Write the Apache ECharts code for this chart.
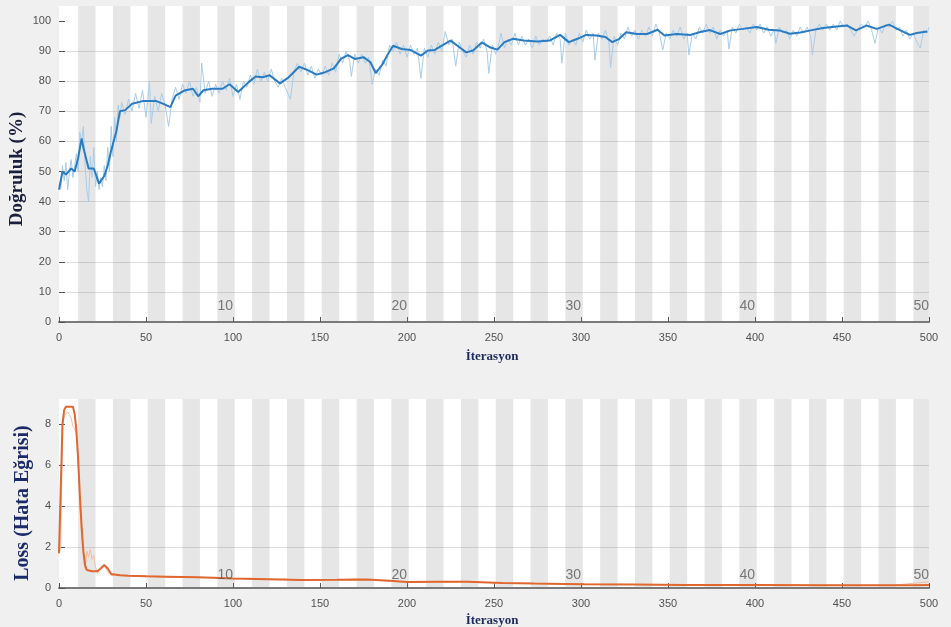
<!DOCTYPE html>
<html>
<head>
<meta charset="utf-8">
<script src="https://cdn.jsdelivr.net/npm/echarts@6/dist/echarts.min.js"></script>
<style>
html,body{margin:0;padding:0;background:#f0f0f0;}
#c{width:951px;height:627px;}
</style>
</head>
<body>
<div id="c"></div>
<script>
// ---------- data ----------
const xTicks = [0,50,100,150,200,250,300,350,400,450,500];
const accTicks = [0,10,20,30,40,50,60,70,80,90,100];
const lossTicks = [0,2,4,6,8];
const epochCount = 50;
const itersPerEpoch = 10;
const epochLabelIters = [100,200,300,400,500];
const epochLabels = ['10','20','30','40','50'];

// smoothed accuracy [iteration, %]
const accSmooth = [
[0,44],[2,50],[4,49],[7,51],[9,50],[11,54.5],[13,61],[14,58],[17,51],[20,51],[23,46],[26,48.5],[28,52],[30,57],
[33,63.5],[35,70],[38,70.4],[42,72.5],[48,73.4],[56,73.4],[60,72.5],[64,71.4],[67,75.2],[72,76.9],[77,77.5],
[80,75],[83,77],[88,77.5],[94,77.5],[98,79],[103,76.4],[109,79.7],[113,81.6],[117,81.3],[121,82],[127,79.3],
[132,81.3],[138,84.8],[143,83.7],[148,82.2],[153,83],[158,84.3],[162,87.4],[166,88.7],[170,87.4],[175,88],
[179,86.3],[182,82.7],[186,85.7],[189,89],[192,91.8],[197,90.7],[202,90.4],[208,88.5],[212,90.2],[216,90.4],
[220,91.8],[225,93.5],[229,91.8],[234,89.6],[238,90.2],[243,92.9],[248,91.2],[252,90.5],[256,93],[261,94.1],
[267,93.5],[275,93.2],[282,93.5],[288,95.4],[293,93],[298,94.1],[303,95.4],[309,95.2],[314,94.7],[318,93],
[322,94.1],[326,96.3],[332,95.7],[338,95.7],[344,97.1],[348,95.2],[355,95.7],[363,95.4],[368,96.3],[374,97],
[380,95.7],[386,96.9],[393,97.4],[401,98],[408,97.1],[414,96.9],[420,95.8],[426,96.2],[432,96.9],[439,97.7],
[447,98.2],[453,98.5],[458,96.9],[464,98.5],[470,97.4],[477,98.8],[483,97.1],[489,95.4],[493,96],[499,96.5]
];

// raw accuracy [iteration, %]
const accRaw = [
[1,44],[2,52],[3,47],[4,53],[5,44],[6,50],[7,54],[8,48],[9,52],[10,56],[11,50],[12,63],[13,60],[14,65],[15,52],
[16,44],[17,40],[18,55],[19,48],[20,58],[21,45],[22,50],[23,44],[24,48],[25,45],[26,52],[27,47],[28,58],[29,50],
[30,65],[31,55],[32,68],[33,60],[34,72],[35,68],[36,73],[38,69],[40,74],[42,70],[44,76],[46,71],[48,77],[50,68],
[52,80],[53,66],[55,75],[57,70],[59,76],[61,72],[63,65],[65,74],[67,78],[69,74],[71,79],[73,76],[75,80],[77,75],
[79,78],[81,73],[82,86],[84,76],[86,80],[88,75],[90,79],[92,76],[94,80],[96,77],[98,81],[100,75],[102,79],[104,74],
[106,80],[108,78],[110,82],[112,79],[114,84],[116,80],[118,83],[120,80],[122,84],[124,80],[126,78],[128,81],
[130,78],[133,74],[135,83],[137,86],[139,83],[141,86],[143,82],[145,85],[147,81],[149,84],[151,82],[153,85],
[155,82],[157,86],[159,83],[161,89],[163,86],[165,90],[167,87],[168,81.6],[170,89],[172,86],[174,89],[176,86],
[178,88],[180,79],[182,84],[184,82],[186,87],[188,85],[190,92],[192,90],[194,93],[196,89],[198,92],[200,88],
[202,92],[204,89],[206,91],[208,81],[210,91],[212,88],[214,92],[216,89],[218,93],[220,90],[222,96.5],[224,92],
[226,94],[228,85],[230,93],[232,90],[234,88],[236,92],[238,89],[240,93],[242,91],[244,94],[246,90],[247,82.6],
[249,92],[251,89],[253,93],[254,96],[256,91],[258,94],[260,92],[262,96],[264,92],[266,95],[268,92],[270,94],
[272,91],[274,95],[276,92],[278,94],[280,93],[282,95],[284,92],[286,96],[288,94],[289,86],[291,96],[293,92],
[295,94],[297,92],[299,96],[301,93],[303,97],[305,94],[307,96],[308,87],[310,96],[312,94],[314,97],[316,93],
[317,84.5],[319,95],[321,92],[323,96],[325,94],[327,98],[329,95],[331,97],[333,94],[335,97],[337,95],[339,98],
[341,95],[343,99],[345,96],[347,90.4],[349,96],[351,94],[353,97],[355,95],[357,98],[359,94],[361,96],[362,88.7],
[364,96],[366,94],[368,98],[370,96],[372,99],[374,96],[376,98],[378,94],[380,97],[382,95],[384,97],[385,90.7],
[387,98],[389,96],[391,99],[393,97],[395,98],[397,96],[399,99],[401,97],[403,99],[405,96],[407,98],[409,95],
[411,97],[412,92.6],[414,98],[416,96],[418,97],[420,94],[422,97],[424,95],[426,98],[428,96],[430,98],[432,95],
[433,88.7],[435,97],[437,99],[439,97],[441,99],[443,97],[445,99],[447,97],[449,100],[451,98],[453,99],[455,97],
[457,95],[459,97],[461,99],[463,98],[465,100],[467,97],[469,92.6],[471,98],[473,96],[475,99],[477,98],[479,100],
[481,97],[483,98],[485,95],[487,97],[489,94],[491,96],[493,93],[495,91],[497,97],[499,96],[500,98]
];

// smoothed loss [iteration, loss]
const lossSmooth = [
[0,1.7],[1,1.7],[2,8.0],[3,8.7],[4,8.85],[8,8.85],[9,8.5],[10,7.7],[11,6.3],[12,4.5],[13,3.0],[14,1.8],[15,1.1],
[16,0.88],[19,0.82],[22,0.82],[24,0.95],[26,1.12],[28,0.95],[30,0.68],[35,0.62],[40,0.6],[50,0.57],[62,0.55],
[80,0.52],[100,0.47],[120,0.43],[139,0.39],[160,0.4],[177,0.42],[190,0.35],[200,0.29],[220,0.3],[235,0.3],
[255,0.25],[273,0.22],[290,0.2],[302,0.18],[330,0.17],[360,0.15],[400,0.15],[440,0.14],[470,0.13],[490,0.13],[500,0.15]
];

// raw loss [iteration, loss]
const lossRaw = [
[0,1.7],[1,2.0],[2,7.9],[3,8.4],[5,8.6],[7,8.3],[8,7.9],[9,7.8],[10,7.5],[11,6.0],[12,4.2],[13,2.5],[14,1.5],
[15,0.9],[16,1.8],[17,1.5],[18,1.9],[19,1.4],[20,1.6],[21,1.0],[22,0.7],[24,1.0],[26,1.1],[28,0.8],[30,0.6],
[35,0.65],[40,0.58],[50,0.6],[60,0.53],[70,0.56],[80,0.5],[90,0.52],[100,0.45],[110,0.47],[120,0.42],[130,0.44],
[140,0.38],[150,0.42],[160,0.39],[170,0.44],[180,0.4],[190,0.33],[200,0.3],[210,0.32],[220,0.28],[230,0.31],
[240,0.27],[250,0.26],[260,0.24],[270,0.23],[280,0.21],[290,0.22],[300,0.18],[320,0.19],[340,0.16],[360,0.17],
[380,0.14],[400,0.16],[420,0.14],[440,0.15],[460,0.13],[480,0.14],[500,0.3]
];

// ---------- build ----------
const bands = [];
for (let e = 2; e <= epochCount; e += 2) {
  const a = (e - 1) * itersPerEpoch + 1;
  const b = Math.min(e * itersPerEpoch + 1, 500);
  bands.push([{xAxis: a}, {xAxis: b}]);
}
const tickFont = {color:'#505050', fontSize:11, fontFamily:'Liberation Sans, Arial, sans-serif'};
const titleFont = 'bold {S}px "Liberation Serif", "Times New Roman", serif';

function xAx(gi) {
  return {
    gridIndex: gi, type:'value', min:0, max:500, interval:50,
    axisLine:{show:true, lineStyle:{color:'#7a7a7a', width:2}},
    axisTick:{show:true, inside:true, length:5, customValues:xTicks, lineStyle:{color:'#555', width:1}},
    axisLabel:Object.assign({margin:10, customValues:xTicks}, tickFont),
    splitLine:{show:false}
  };
}
function yAx(gi, max, interval, ticks) {
  return {
    gridIndex: gi, type:'value', min:0, max:max, interval:interval,
    axisLine:{show:false},
    axisTick:{show:true, inside:true, length:6, customValues:ticks, lineStyle:{color:'#555', width:1}},
    axisLabel:Object.assign({margin:8, customValues:ticks,
      formatter:function(v){return (v % interval === 0) ? String(v) : '';}}, tickFont),
    splitLine:{show:true, showMaxLine:false, showMinLine:false, lineStyle:{color:'#dcdcdc', width:1}}
  };
}
function bandSeries(i) {
  return {type:'line', xAxisIndex:i, yAxisIndex:i, data:[], z:1, silent:true,
    markArea:{silent:true, itemStyle:{color:'rgba(128,128,128,0.2)'}, data:bands}};
}
function epochSeries(i, yv) {
  return {type:'scatter', xAxisIndex:i, yAxisIndex:i, symbolSize:0, z:4, silent:true,
    data: epochLabelIters.map((x,k)=>({value:[x,yv], name:epochLabels[k]})),
    label:{show:true, position:'left', distance:0, formatter:'{b}', color:'#5a5a5a', fontSize:14,
      fontFamily:'Liberation Sans, Arial, sans-serif'}};
}

const chart = echarts.init(document.getElementById('c'), null, {renderer:'canvas'});
chart.setOption({
  animation:false,
  backgroundColor:'#f0f0f0',
  grid:[
    {left:59, right:22, top:6, height:316, show:true, backgroundColor:'#ffffff', borderWidth:0},
    {left:59, right:22, top:399, height:189, show:true, backgroundColor:'#ffffff', borderWidth:0}
  ],
  xAxis:[xAx(0), xAx(1)],
  yAxis:[yAx(0,105,10,accTicks), yAx(1,9.23,2,lossTicks)],
  graphic:[
    {type:'text', x:17, y:169, rotation:Math.PI/2, style:{text:'Doğruluk (%)', font:titleFont.replace('{S}',19), fill:'#1a1f3a', align:'center', verticalAlign:'middle'}},
    {type:'text', x:492, y:357, style:{text:'İterasyon', font:titleFont.replace('{S}',13), fill:'#1c2a5a', align:'center', verticalAlign:'middle'}},
    {type:'text', x:23, y:503, rotation:Math.PI/2, style:{text:'Loss (Hata Eğrisi)', font:titleFont.replace('{S}',20), fill:'#1c2a6a', align:'center', verticalAlign:'middle'}},
    {type:'text', x:492, y:621, style:{text:'İterasyon', font:titleFont.replace('{S}',13), fill:'#1c2a5a', align:'center', verticalAlign:'middle'}}
  ],
  series:[
    bandSeries(0),
    {type:'line', xAxisIndex:0, yAxisIndex:0, data:accRaw, showSymbol:false, z:2, silent:true,
      lineStyle:{color:'#a9cdea', width:1}},
    {type:'line', xAxisIndex:0, yAxisIndex:0, data:accSmooth, showSymbol:false, z:3, silent:true,
      lineStyle:{color:'#2a7cc2', width:2}},
    epochSeries(0, 5.3),
    bandSeries(1),
    {type:'line', xAxisIndex:1, yAxisIndex:1, data:lossRaw, showSymbol:false, z:2, silent:true,
      lineStyle:{color:'#f3bfa3', width:1}},
    {type:'line', xAxisIndex:1, yAxisIndex:1, data:lossSmooth, showSymbol:false, z:3, silent:true,
      lineStyle:{color:'#e0672e', width:2}},
    epochSeries(1, 0.63)
  ]
});
</script>
</body>
</html>
